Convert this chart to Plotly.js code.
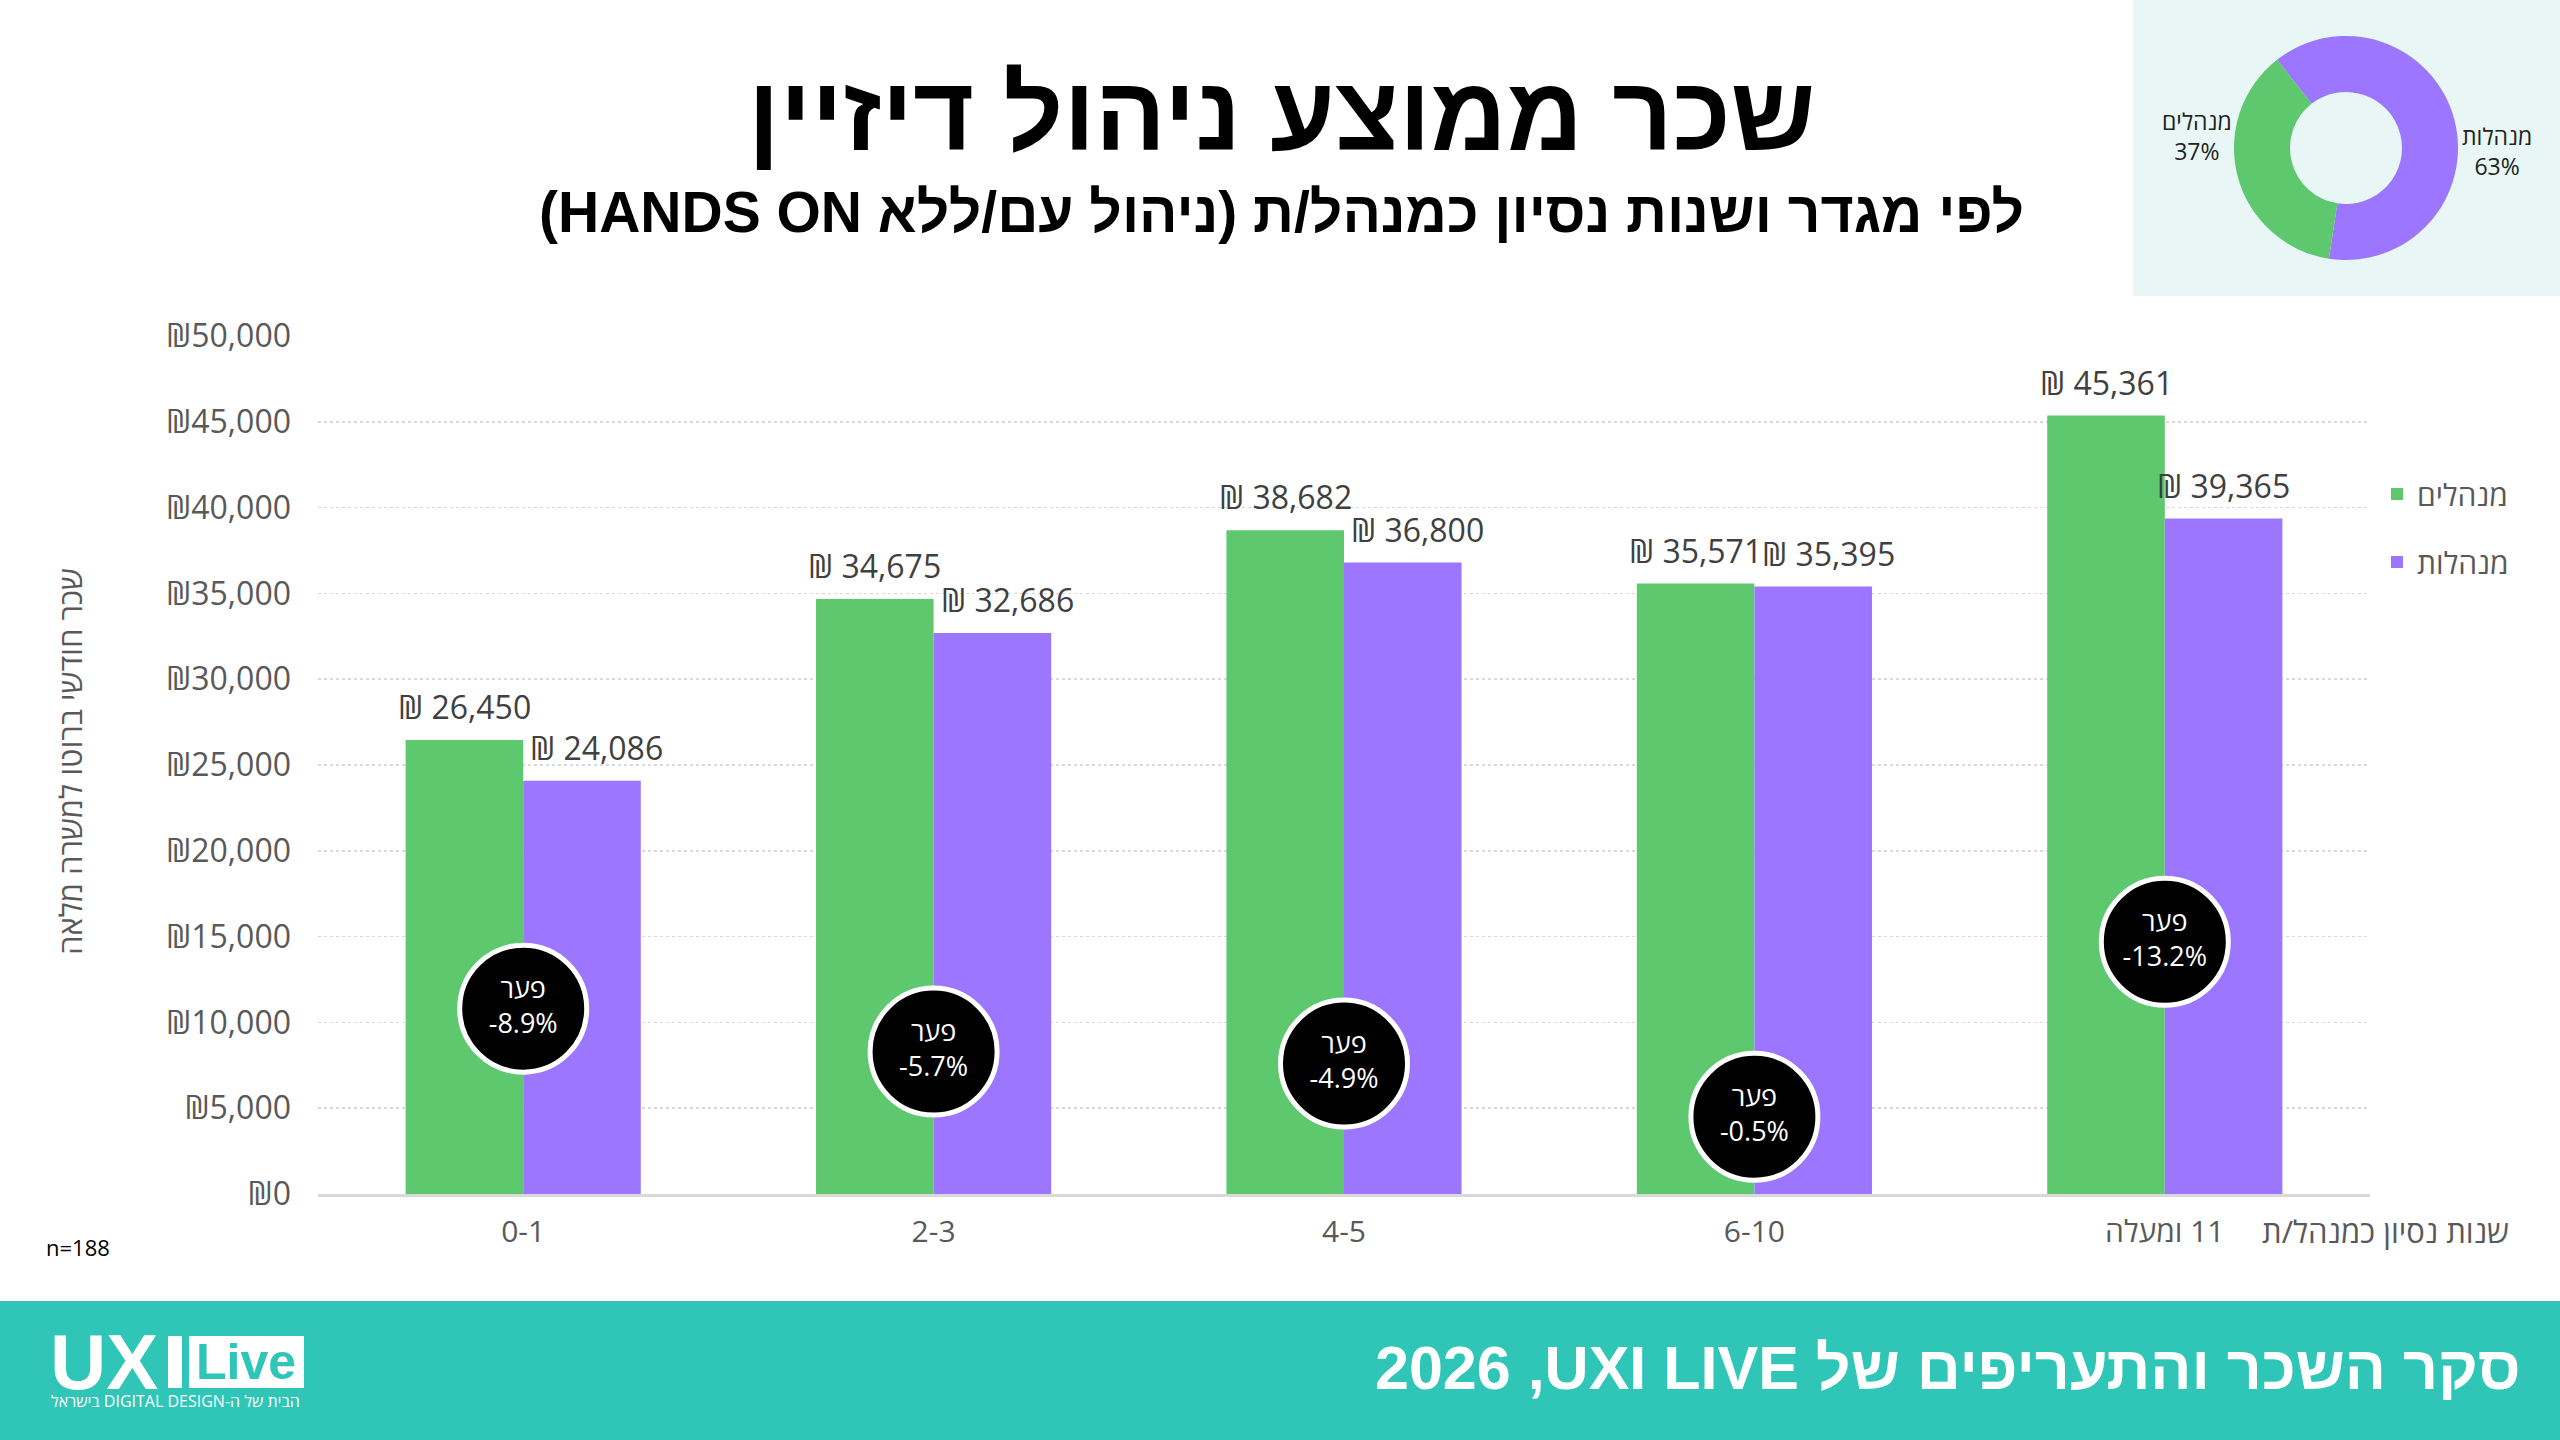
<!DOCTYPE html>
<html><head><meta charset="utf-8">
<script src="https://cdn.plot.ly/plotly-3.0.1.min.js"></script>
<style>html,body{margin:0;padding:0;background:#fff;} #chart{width:2560px;height:1440px;}</style>
</head><body><div id="chart"></div>
<script>
// ---- data ----
const categories = ['0-1', '2-3', '4-5', '6-10', '11 ומעלה'];
const seriesNames = ['מנהלים', 'מנהלות'];
const men = [26450, 34675, 38682, 35571, 45361];
const women = [24086, 32686, 36800, 35395, 39365];
const gapPct = [-8.9, -5.7, -4.9, -0.5, -13.2];
const gapBubbleY = [10800, 8300, 7600, 4500, 14700];
const shareLabels = ['מנהלות', 'מנהלים'];
const shareValues = [63, 37];
const yTickVals = [0, 5000, 10000, 15000, 20000, 25000, 30000, 35000, 40000, 45000, 50000];

// ---- styles ----
const GREEN = '#5EC86F', PURPLE = '#9D76FF', TEAL = '#2FC5B7';
const GRAY = '#595959';
const FONT = 'Open Sans, DejaVu Sans, sans-serif';
const BOLD = 'Liberation Sans, Arial, sans-serif';
const rtl = s => '\u202B' + s + '\u202C';
const fmt = v => '₪ ' + v.toLocaleString('en-US');
const W = 2560, H = 1440;
const px = x => x / W, py = y => 1 - y / H;
const BAR_HALF = 58.7;          // half of a bar width in px (label offsets)
const PX_PER_UNIT = 858 / 50000; // plot height / y range, for label collision test

const traces = [
  {type: 'bar', name: seriesNames[0], x: categories, y: men, marker: {color: GREEN},
   legendgroup: 'm', hoverinfo: 'skip'},
  {type: 'bar', name: seriesNames[1], x: categories, y: women, marker: {color: PURPLE},
   legendgroup: 'w', hoverinfo: 'skip'},
  {type: 'scatter', mode: 'markers+text', x: categories, y: gapBubbleY,
   marker: {size: 127, color: '#000', line: {color: '#fff', width: 5}},
   text: gapPct.map(g => 'פער<br>' + g.toFixed(1) + '%'), textposition: 'middle center',
   textfont: {family: FONT, size: 27, color: '#fff'}, showlegend: false, cliponaxis: false, hoverinfo: 'skip'},
  {type: 'pie', labels: shareLabels, values: shareValues, marker: {colors: [PURPLE, GREEN]},
   hole: 0.5, sort: false, direction: 'clockwise', rotation: -38,
   domain: {x: [px(2234), px(2458)], y: [py(260), py(36)]},
   textinfo: 'none', showlegend: false, hoverinfo: 'skip'}
];

const barLabels = [];
categories.forEach((c, i) => {
  barLabels.push({xref: 'x', yref: 'y', x: c, y: men[i], xshift: -BAR_HALF, yshift: 10,
    text: fmt(men[i]), showarrow: false, xanchor: 'center', yanchor: 'bottom',
    font: {family: FONT, size: 32, color: '#404040'}});
  // like the source, the right label is nudged right when it would collide with the left one
  const collide = Math.abs(men[i] - women[i]) * PX_PER_UNIT < 50;
  barLabels.push({xref: 'x', yref: 'y', x: c, y: women[i], xshift: BAR_HALF + (collide ? 15 : 0), yshift: 10,
    text: fmt(women[i]), showarrow: false, xanchor: 'center', yanchor: 'bottom',
    font: {family: FONT, size: 32, color: '#404040'}});
});

const pieLabels = [
  {xref: 'paper', yref: 'paper', x: px(2197), y: py(136),
   text: rtl(shareLabels[1]) + '<br>' + shareValues[1] + '%', showarrow: false,
   xanchor: 'center', yanchor: 'middle', font: {family: FONT, size: 23, color: '#222'}},
  {xref: 'paper', yref: 'paper', x: px(2497), y: py(151),
   text: rtl(shareLabels[0]) + '<br>' + shareValues[0] + '%', showarrow: false,
   xanchor: 'center', yanchor: 'middle', font: {family: FONT, size: 23, color: '#222'}}
];

const layout = {
  width: W, height: H, margin: {l: 0, r: 0, t: 0, b: 0},
  paper_bgcolor: '#fff', plot_bgcolor: 'rgba(0,0,0,0)',
  barmode: 'group', bargap: 0.427, bargroupgap: 0,
  font: {family: FONT, color: GRAY},
  xaxis: {domain: [px(318), px(2370)], type: 'category', range: [-0.5, 4.5],
    tickvals: categories, ticktext: categories.map(rtl), ticks: '', ticklabelstandoff: 9,
    tickfont: {family: FONT, size: 30, color: GRAY},
    showline: true, linecolor: '#D9D9D9', linewidth: 3, showgrid: false, fixedrange: true},
  yaxis: {domain: [py(1194), py(336)], range: [0, 50000], tickvals: yTickVals,
    ticktext: yTickVals.map(v => '₪' + v.toLocaleString('en-US')), ticks: '', ticklabelstandoff: 26,
    tickfont: {family: FONT, size: 32, color: GRAY},
    showgrid: true, gridcolor: '#D9D9D9', gridwidth: 1.5, griddash: 'dot',
    zeroline: false, showline: false, fixedrange: true},
  legend: {x: px(2377), y: py(468), xanchor: 'left', yanchor: 'top', orientation: 'v',
    font: {family: FONT, size: 30, color: GRAY}, tracegroupgap: 26, bgcolor: 'rgba(0,0,0,0)'},
  shapes: [
    {type: 'rect', xref: 'paper', yref: 'paper', x0: px(2133), x1: 1, y0: py(296), y1: 1,
     fillcolor: '#E8F6F5', line: {width: 0}, layer: 'below'},
    {type: 'rect', xref: 'paper', yref: 'paper', x0: 0, x1: 1, y0: 0, y1: py(1301),
     fillcolor: TEAL, line: {width: 0}, layer: 'below'},
    {type: 'rect', xref: 'paper', yref: 'paper', x0: px(168), x1: px(182), y0: py(1388), y1: py(1336),
     fillcolor: '#fff', line: {width: 0}, layer: 'above'},
    {type: 'rect', xref: 'paper', yref: 'paper', x0: px(189), x1: px(304), y0: py(1388), y1: py(1336),
     fillcolor: '#fff', line: {width: 0}, layer: 'above'}
  ],
  annotations: [
    {xref: 'paper', yref: 'paper', x: px(1281), y: py(114), text: rtl('שכר ממוצע ניהול דיזיין'),
     showarrow: false, xanchor: 'center', yanchor: 'middle',
     font: {family: BOLD, size: 105, color: '#000', weight: 'bold'}},
    {xref: 'paper', yref: 'paper', x: px(1281), y: py(212), text: rtl('לפי מגדר ושנות נסיון כמנהל/ת (ניהול עם/ללא HANDS ON)'),
     showarrow: false, xanchor: 'center', yanchor: 'middle',
     font: {family: BOLD, size: 57, color: '#000', weight: 'bold'}},
    {xref: 'paper', yref: 'paper', x: px(70), y: py(762), text: rtl('שכר חודשי ברוטו למשרה מלאה'),
     textangle: -90, showarrow: false, xanchor: 'center', yanchor: 'middle',
     font: {family: FONT, size: 31, color: GRAY}},
    {xref: 'paper', yref: 'paper', x: px(2385), y: py(1231), text: rtl('שנות נסיון כמנהל/ת'),
     showarrow: false, xanchor: 'center', yanchor: 'middle',
     font: {family: FONT, size: 31, color: GRAY}},
    {xref: 'paper', yref: 'paper', x: px(44), y: py(1247), text: 'n=188',
     showarrow: false, xanchor: 'left', yanchor: 'middle',
     font: {family: FONT, size: 22, color: '#000'}},
    {xref: 'paper', yref: 'paper', x: px(2523), y: py(1368), text: rtl('סקר השכר והתעריפים של UXI LIVE\u200F, 2026'),
     showarrow: false, xanchor: 'right', yanchor: 'middle',
     font: {family: BOLD, size: 61, color: '#fff', weight: 'bold'}},
    {xref: 'paper', yref: 'paper', x: px(104), y: py(1362), text: 'UX',
     showarrow: false, xanchor: 'center', yanchor: 'middle',
     font: {family: BOLD, size: 78, color: '#fff', weight: 'bold'}},
    {xref: 'paper', yref: 'paper', x: px(246), y: py(1362), text: 'Live',
     showarrow: false, xanchor: 'center', yanchor: 'middle',
     font: {family: BOLD, size: 50, color: TEAL, weight: 'bold'}},
    {xref: 'paper', yref: 'paper', x: px(175), y: py(1401), text: rtl('הבית של ה-DIGITAL DESIGN בישראל'),
     showarrow: false, xanchor: 'center', yanchor: 'middle',
     font: {family: FONT, size: 16, color: '#fff'}}
  ].concat(barLabels, pieLabels)
};

Plotly.newPlot('chart', traces, layout, {staticPlot: true, displayModeBar: false});
</script>
</body></html>
